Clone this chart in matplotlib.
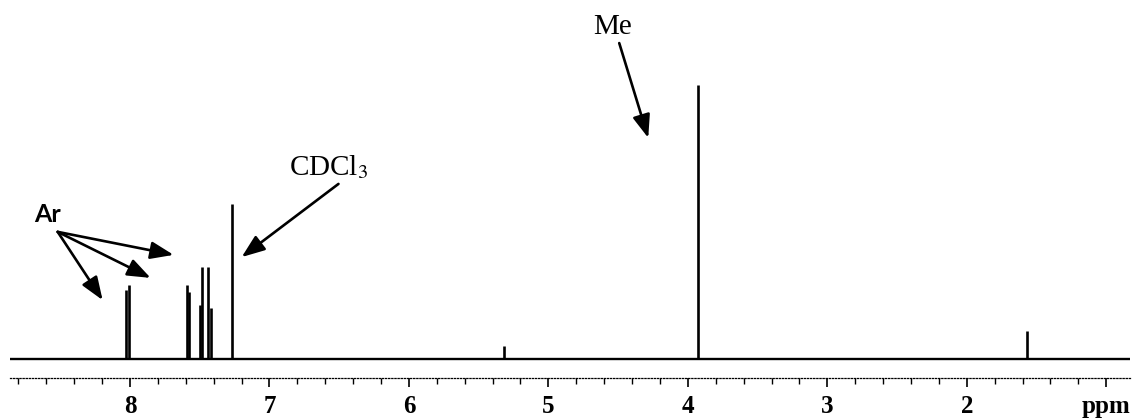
import matplotlib
matplotlib.use('Agg')
import matplotlib.pyplot as plt
from matplotlib.ticker import FixedLocator, MultipleLocator

# 1H NMR stick spectrum (ppm, intensity with Me = 100)
shifts = [8.03, 8.01, 7.59, 7.58, 7.50, 7.48, 7.44, 7.42, 7.27, 5.32, 3.93, 1.57]
heights = [25.2, 27.0, 27.0, 24.5, 19.7, 33.6, 33.6, 18.6, 56.6, 4.7, 100.0, 10.2]

major_ticks = [8, 7, 6, 5, 4, 3, 2, 1]
major_labels = ['8', '7', '6', '5', '4', '3', '2', 'ppm']

plt.rcParams['mathtext.fontset'] = 'stix'
serif = 'Liberation Serif'

fig = plt.figure(figsize=(11.4, 4.19), dpi=100)
ax = fig.add_axes([10 / 1140, 41 / 419, 1120 / 1140, 293 / 419])

ax.axhline(0, color='black', lw=1.7)
ax.vlines(shifts, 0, heights, color='black', lw=1.9)

ax.set_xlim(8.86, 0.83)
ax.set_ylim(-6.93, 100)

for s in ['left', 'right', 'top']:
    ax.spines[s].set_visible(False)
ax.spines['bottom'].set_linestyle((0, (1, 1.5)))
ax.spines['bottom'].set_linewidth(0.9)
ax.set_yticks([])

ax.xaxis.set_major_locator(FixedLocator(major_ticks))
ax.set_xticklabels(major_labels, fontfamily=serif, fontweight='bold', fontsize=18)
ax.xaxis.set_minor_locator(MultipleLocator(0.2))
ax.tick_params(axis='x', which='major', direction='out', length=6.5, width=1.2, pad=6)
ax.tick_params(axis='x', which='minor', direction='out', length=4.3, width=1.0)

arrow = dict(arrowstyle='-|>,head_length=1.0,head_width=0.38', color='black',
             lw=1.9, mutation_scale=14, shrinkA=0, shrinkB=0)

# Me
ax.text(4.542, 121.2, 'Me', fontfamily=serif, fontsize=21, ha='center', va='center', clip_on=False)
ax.annotate('', xy=(4.284, 80.7), xytext=(4.492, 115.3), arrowprops=arrow, annotation_clip=False)

# CDCl3
ax.text(6.577, 70.1, 'CDCl$_3$', fontfamily=serif, fontsize=21, ha='center', va='center', clip_on=False)
ax.annotate('', xy=(7.199, 37.2), xytext=(6.505, 63.9), arrowprops=arrow, annotation_clip=False)

# Ar
ax.text(8.590, 52.6, 'Ar', fontfamily='Lato', fontweight='bold', fontsize=18,
        ha='center', va='center', clip_on=False)
for tip in [(7.687, 38.0), (7.852, 29.6), (8.196, 21.5)]:
    ax.annotate('', xy=tip, xytext=(8.518, 46.4), arrowprops=arrow, annotation_clip=False)

fig.savefig('out.png', dpi=100)
